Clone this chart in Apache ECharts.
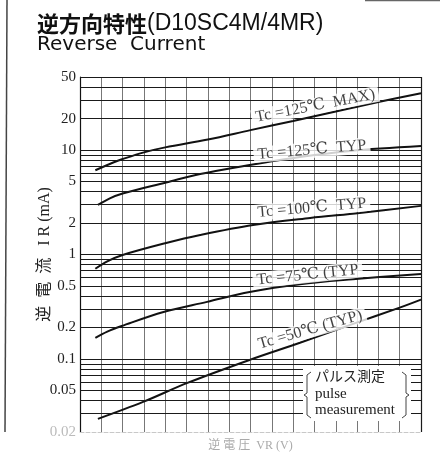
<!DOCTYPE html>
<html>
<head>
<meta charset="utf-8">
<script src="https://cdn.jsdelivr.net/npm/echarts@6/dist/echarts.min.js"></script>
<style>
html,body{margin:0;padding:0;background:#fff;}
#chart{width:440px;height:471px;}
</style>
</head>
<body>
<div id="chart"></div>
<script>
// ---- data ----
const titleJa = "逆方向特性";
const titleModel = "(D10SC4M/4MR)";
const titleEn = "Reverse  Current";
const yName = "逆  電  流   I R (mA)";
const xName = "逆 電 圧  VR (V)";

const tickLabels = ["50", "20", "10", "5", "2", "1", "0.5", "0.2", "0.1", "0.05", "0.02"];
const gridValues = [50, 40, 30, 20, 10, 9, 8, 7, 6, 5, 4, 3, 2, 1, 0.9, 0.8, 0.7, 0.6, 0.5, 0.4, 0.3, 0.2,
                    0.1, 0.09, 0.08, 0.07, 0.06, 0.05, 0.04, 0.03, 0.02];

const vr125max = [1.8, 3.9, 5.0, 7.5, 10, 15, 20, 25, 30, 35, 40];
const ir125max = [6.4, 7.6, 8.2, 9.5, 10.6, 12.6, 15.5, 19.0, 23.4, 28.8, 35];

const vr125typ = [2.1, 3.5, 5.0, 10.1, 14.1, 19.9, 25.8, 31.7, 40];
const ir125typ = [2.98, 3.45, 3.84, 4.89, 5.9, 7.19, 8.58, 9.8, 10.9];

const vr100typ = [1.8, 3.2, 5.0, 10.1, 14.1, 20.3, 27.0, 32.8, 40];
const ir100typ = [0.73, 0.86, 0.99, 1.29, 1.54, 1.92, 2.24, 2.5, 2.92];

const vr75typ = [1.8, 3.2, 4.9, 9.8, 14.9, 19.9, 25.8, 32, 40];
const ir75typ = [0.159, 0.183, 0.207, 0.282, 0.352, 0.438, 0.52, 0.58, 0.65];

const vr50typ = [2.1, 7.4, 12.6, 19.9, 25.8, 31.7, 37.5, 40];
const ir50typ = [0.0267, 0.0388, 0.059, 0.098, 0.143, 0.212, 0.31, 0.37];

const curveLabels = ["Tc =125℃  MAX)", "Tc =125℃  TYP", "Tc =100℃  TYP", "Tc =75℃ (TYP", "Tc =50℃ (TYP)"];
const labelVR = [27.6, 27.2, 27.2, 26.7, 27.0];
const labelIR = [26.4, 10.0, 2.79, 0.637, 0.19];
const labelAngle = [11, 5, 5, 6, 16];

const noteLines = ["パルス測定", "pulse", "measurement"];

// ---- chart ----
const serif = "'Liberation Serif', 'DejaVu Serif', 'Noto Sans CJK JP', serif";
const chart = echarts.init(document.getElementById('chart'), null, {renderer: 'canvas'});

function zip(a, b) { return a.map((v, i) => [v, b[i]]); }
const curves = [[vr125max, ir125max], [vr125typ, ir125typ], [vr100typ, ir100typ], [vr75typ, ir75typ], [vr50typ, ir50typ]];
const lastGrid = gridValues[gridValues.length - 1];

const series = [];
// grid lines + tick labels
series.push({
  type: 'line', data: [], z: 1, silent: true,
  markLine: {
    symbol: ['none', 'none'], silent: true, animation: false,
    lineStyle: {color: '#1a1a1a', width: 1, type: 'solid'},
    label: {show: false},
    data: gridValues.map(v => {
      const idx = tickLabels.indexOf(String(v));
      const faint = v === lastGrid;
      return {
        yAxis: v,
        lineStyle: faint ? {color: '#c8c8c8', type: 'dashed'} : undefined,
        label: idx >= 0 ? {show: true, position: 'start', distance: 4, formatter: tickLabels[idx],
                           fontFamily: serif, fontSize: 15, color: faint ? '#bbb' : '#222'} : {show: false}
      };
    }).concat([{xAxis: 40, lineStyle: {color: '#1a1a1a', width: 1.2}}])
  }
});
curves.forEach(c => {
  series.push({
    type: 'line', data: zip(c[0], c[1]), smooth: 0.35, symbol: 'none', z: 3,
    lineStyle: {color: '#111', width: 2}, animation: false
  });
});
series.push({
  type: 'scatter', z: 6, symbolSize: 0, animation: false, silent: true,
  data: curveLabels.map((t, i) => ({
    value: [labelVR[i], labelIR[i]],
    label: {show: true, position: 'inside', formatter: t, rotate: labelAngle[i],
            fontFamily: serif, fontSize: 16, color: '#111',
            backgroundColor: '#fff', padding: [0, 4]}
  }))
});

const option = {
  animation: false,
  backgroundColor: '#fff',
  title: {
    left: 32, top: 7, itemGap: 0,
    text: '{a|' + titleJa + '}{b|' + titleModel + '}',
    textStyle: {
      fontWeight: 'normal',
      rich: {
        a: {fontFamily: "'Noto Sans CJK JP'", fontSize: 22, color: '#111', fontWeight: 'bold'},
        b: {fontFamily: "'Liberation Sans', Arial", fontSize: 23, color: '#111', fontWeight: 'normal'}
      }
    },
    subtext: titleEn,
    subtextStyle: {fontFamily: "'DejaVu Sans'", fontSize: 20, color: '#111'}
  },
  grid: {left: 80, right: 19, top: 77, bottom: 39, show: false},
  xAxis: {
    type: 'value', min: 0, max: 40, interval: 2.5,
    axisLabel: {show: false}, axisTick: {show: false},
    axisLine: {lineStyle: {color: '#c8c8c8', width: 1, type: 'dashed'}},
    splitLine: {show: true, lineStyle: {color: '#777', width: 1}},
    name: xName, nameLocation: 'middle', nameGap: 8,
    nameTextStyle: {fontFamily: serif, fontSize: 12, color: '#aaa'}
  },
  yAxis: {
    type: 'log', min: 0.02, max: 50, logBase: 10,
    axisLabel: {show: false}, axisTick: {show: false},
    axisLine: {show: true, lineStyle: {color: '#111', width: 1.2}},
    splitLine: {show: false},
    name: yName, nameLocation: 'middle', nameRotate: 90, nameGap: 27,
    nameTextStyle: {fontFamily: serif, fontSize: 16, color: '#222'}
  },
  series: series,
  graphic: [
    {type: 'rect', z: 100, shape: {x: 303, y: 366, width: 108, height: 55}, style: {fill: '#fff'}},
    {type: 'text', z: 101, left: 315, top: 369, style: {text: noteLines[0], font: "14px 'Noto Sans CJK JP'", fill: '#222'}},
    {type: 'text', z: 101, left: 315, top: 387, style: {text: noteLines[1], font: "15px 'Liberation Serif'", fill: '#222'}},
    {type: 'text', z: 101, left: 315, top: 403, style: {text: noteLines[2], font: "15px 'Liberation Serif'", fill: '#222'}},
    {type: 'polyline', z: 101, shape: {points: [[311, 372], [307, 375], [307, 393], [304, 395], [307, 397], [307, 415], [311, 418]]},
     style: {stroke: '#444', lineWidth: 1, fill: null}},
    {type: 'polyline', z: 101, shape: {points: [[402, 372], [406, 375], [406, 393], [409, 395], [406, 397], [406, 415], [402, 418]]},
     style: {stroke: '#444', lineWidth: 1, fill: null}},
    {type: 'line', z: 0, shape: {x1: 7, y1: 0, x2: 5, y2: 432}, style: {stroke: '#444', lineWidth: 1.5}},
    {type: 'line', z: 0, shape: {x1: 365, y1: 0.5, x2: 440, y2: 0.5}, style: {stroke: '#666', lineWidth: 1.5}}
  ]
};
chart.setOption(option);
</script>
</body>
</html>
